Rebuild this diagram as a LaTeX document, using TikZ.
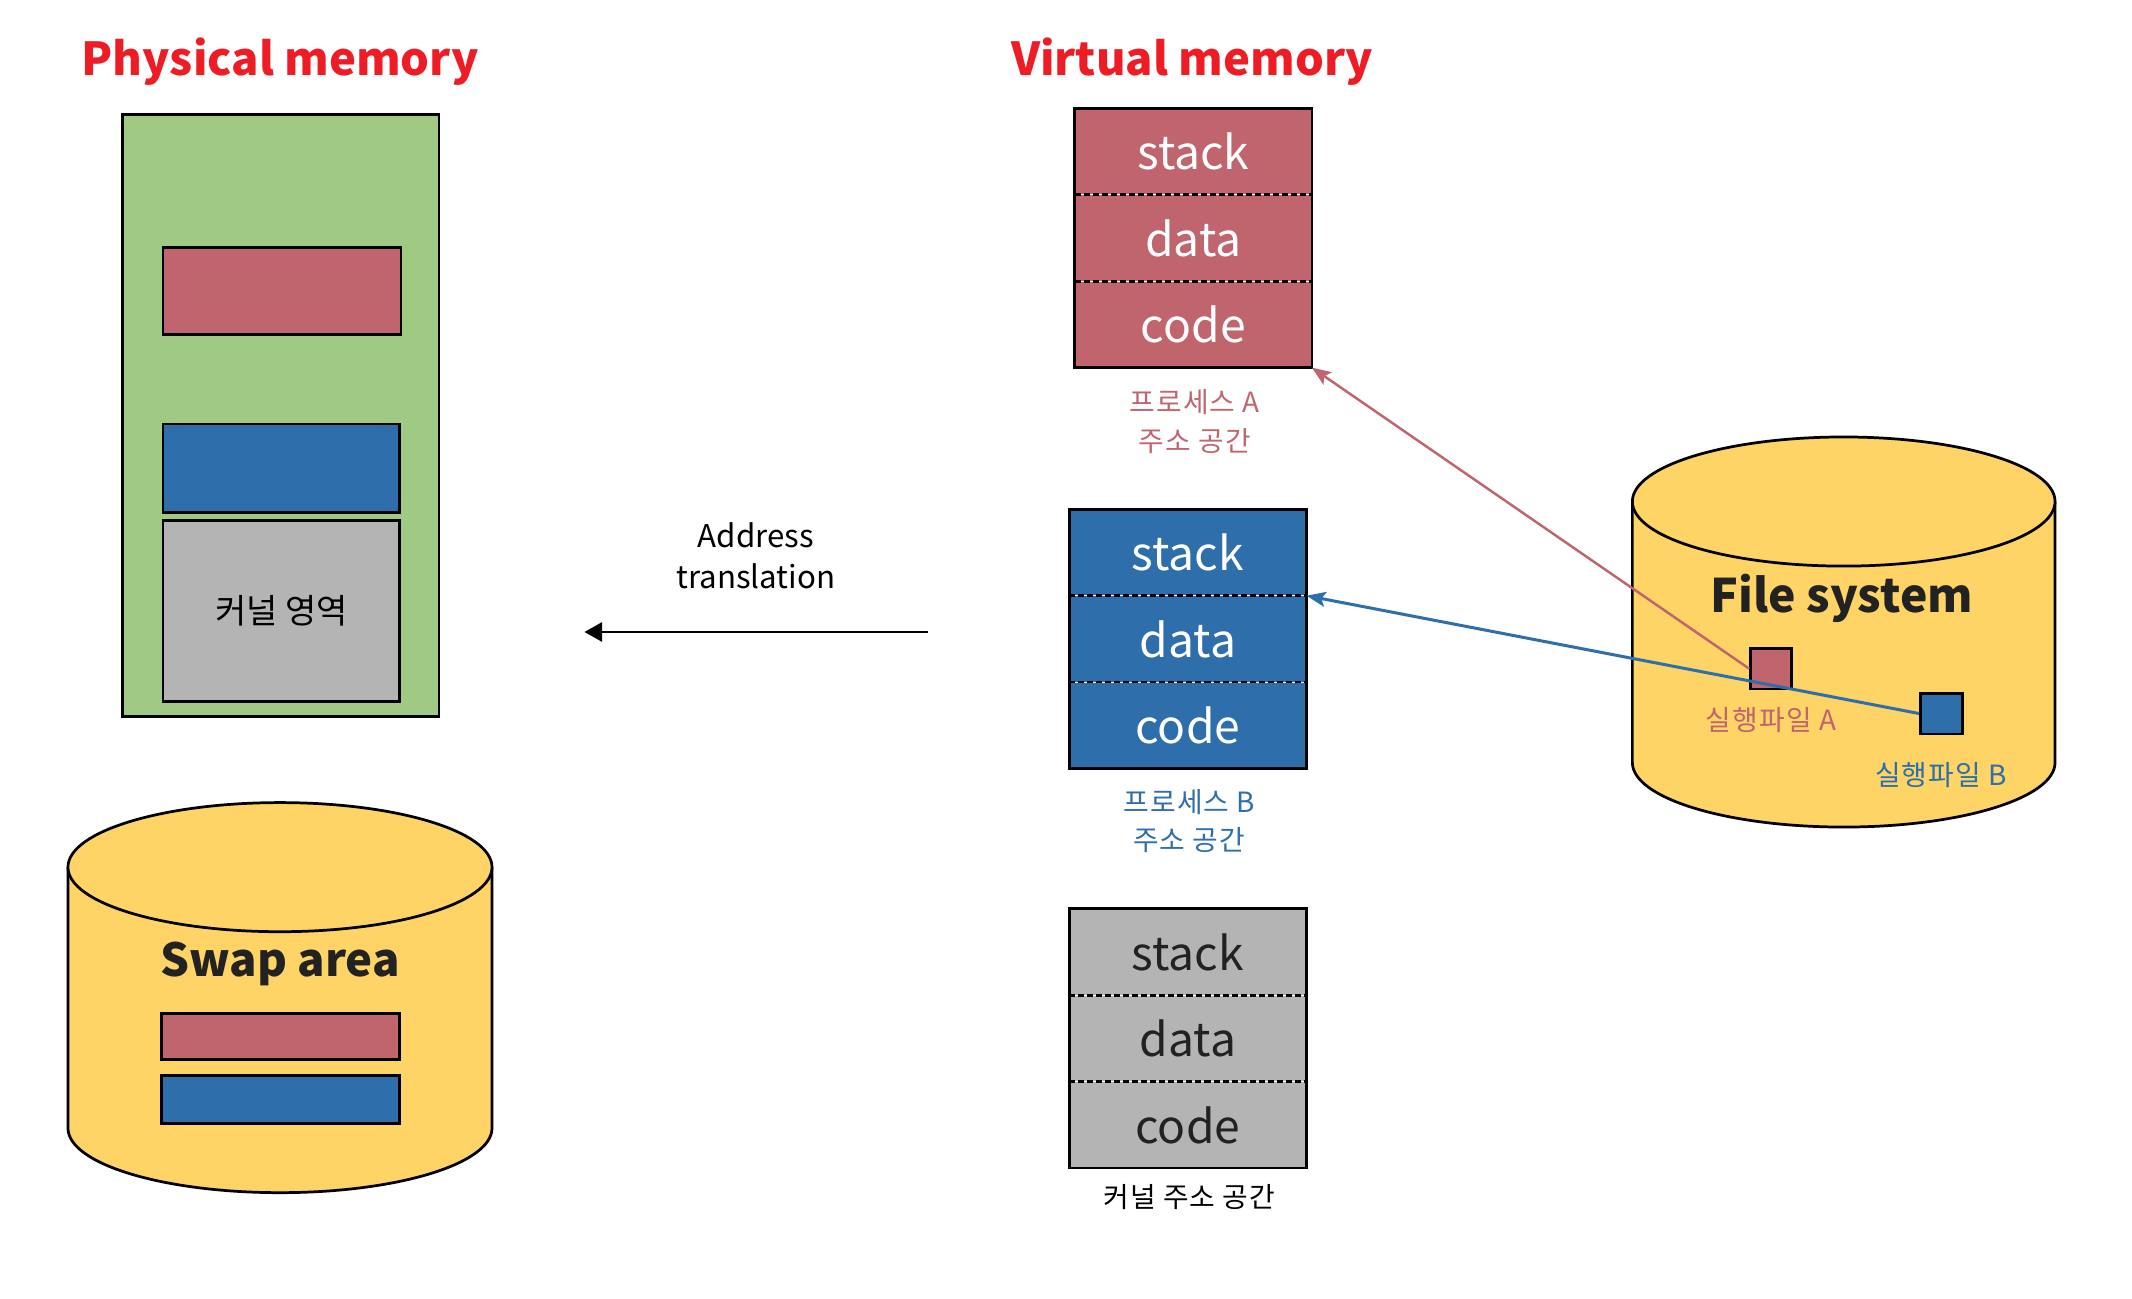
\documentclass[tikz,border=0pt]{standalone}
\usepackage{fontspec}
\setmainfont{Noto Sans CJK KR}
\newfontfamily\capfont[LetterSpace=4]{Noto Sans CJK KR}
\usepackage{xcolor}
\usetikzlibrary{arrows,arrows.meta,positioning}

\definecolor{segred}{HTML}{C0646E}
\definecolor{segblue}{HTML}{2E6EAA}
\definecolor{memgreen}{HTML}{A0CA84}
\definecolor{seggray}{HTML}{B4B4B4}
\definecolor{diskyellow}{HTML}{FDD465}
\definecolor{titlered}{HTML}{EE1C24}
\definecolor{inkdark}{HTML}{222222}

\begin{document}
\begin{tikzpicture}[x=1pt,y=1pt,>=stealth',semithick]
  \tikzstyle{seg}=[minimum width=174pt,minimum height=63pt,inner sep=0pt,font=\fontsize{34}{40}\selectfont]
  \tikzstyle{block}=[draw=black,line width=2pt,inner sep=0pt]
  \tikzstyle{title}=[text=titlered,font=\fontsize{33.4}{40}\selectfont\bfseries]
  \tikzstyle{caption}=[align=center,font=\capfont\fontsize{20.5}{28.5}\selectfont]
  \tikzstyle{disk}=[fill=diskyellow,draw=black,line width=2pt]
  \tikzstyle{divider}=[line width=2pt,dash pattern=on 4.4pt off 2.2pt]
  \tikzstyle{load}=[-{Stealth[length=14pt,width=11pt,inset=3pt]}]
  \useasboundingbox (0,0) rectangle (1560,-950);

  \begin{scope}[scale=0.9945,transform shape]
  % Titles
  \node[title] (PT) at (206,-45) {Physical memory};
  \node[title] (VT) at (877,-45) {Virtual memory};

  % Physical memory
  \node[block,fill=memgreen,minimum width=233pt,minimum height=443pt] (PM) at (206.5,-305.5) {};
  \node[block,fill=segred,minimum width=175pt,minimum height=64pt] (PA) at (207.5,-214) {};
  \node[block,fill=segblue,minimum width=174pt,minimum height=65pt] (PB) at (207,-344.5) {};
  \node[block,fill=seggray,minimum width=174pt,minimum height=133pt,font=\fontsize{25}{30}\selectfont] (PK) at (207,-449.5) {커널 영역};

  % Swap area
  \draw[disk] (50,-638) -- (50,-830) arc[start angle=180,end angle=360,x radius=156,y radius=47.5] -- (362,-638);
  \draw[disk] (206,-638) ellipse[x radius=156,y radius=47.5];
  \node[text=inkdark,font=\fontsize{33.5}{40}\selectfont\bfseries] (SW) at (206,-709) {Swap area};
  \node[block,fill=segred,minimum width=175pt,minimum height=34pt] (SA) at (206.5,-762.5) {};
  \node[block,fill=segblue,minimum width=175pt,minimum height=35pt] (SB) at (206.5,-809) {};

  % Address translation
  \coordinate (T1) at (683,-465);
  \coordinate (T0) at (430,-465);
  \draw[-{Triangle[length=13pt,width=14pt]},line width=2pt] (T1) -- (T0);
  \node[align=center,font=\fontsize{23}{30}\selectfont] (TL) at (556,-409) {Address\\translation};

  % Process A
  \node[seg,fill=segred,text=white] (As) at (878,-111.5) {stack};
  \node[seg,fill=segred,text=white,below=0pt of As] (Ad) {data};
  \node[seg,fill=segred,text=white,below=0pt of Ad] (Ac) {code};
  \draw[line width=2pt] (As.north west) rectangle (Ac.south east);
  \draw[divider] (As.south west) -- (As.south east);
  \draw[divider] (Ad.south west) -- (Ad.south east);
  \node[caption,text=segred] (AL) at (879,-310) {프로세스 A\\주소 공간};

  % Process B
  \node[seg,fill=segblue,text=white] (Bs) at (874,-406.5) {stack};
  \node[seg,fill=segblue,text=white,below=0pt of Bs] (Bd) {data};
  \node[seg,fill=segblue,text=white,below=0pt of Bd] (Bc) {code};
  \draw[line width=2pt] (Bs.north west) rectangle (Bc.south east);
  \draw[divider] (Bs.south west) -- (Bs.south east);
  \draw[divider] (Bd.south west) -- (Bd.south east);
  \node[caption,text=segblue] (BL) at (875,-604) {프로세스 B\\주소 공간};

  % Kernel
  \node[seg,fill=seggray,text=inkdark] (Ks) at (874,-700.5) {stack};
  \node[seg,fill=seggray,text=inkdark,below=0pt of Ks] (Kd) {data};
  \node[seg,fill=seggray,text=inkdark,below=0pt of Kd] (Kc) {code};
  \draw[line width=2pt] (Ks.north west) rectangle (Kc.south east);
  \draw[divider] (Ks.south west) -- (Ks.south east);
  \draw[divider] (Kd.south west) -- (Kd.south east);
  \node[caption,text=black] (KL) at (875,-881) {커널 주소 공간};

  % File system
  \draw[disk] (1201,-369) -- (1201,-561) arc[start angle=180,end angle=360,x radius=155.5,y radius=47.5] -- (1512,-369);
  \draw[disk] (1356.5,-369) ellipse[x radius=155.5,y radius=47.5];
  \node[text=inkdark,font=\fontsize{34}{40}\selectfont\bfseries] (FS) at (1355,-440) {File system};
  \node[block,fill=segred,minimum width=30pt,minimum height=30pt] (XA) at (1303,-492) {};
  \node[caption,text=segred] (XAL) at (1303,-530) {실행파일 A};
  \node[block,fill=segblue,minimum width=31pt,minimum height=30pt] (XB) at (1428.5,-525) {};
  \node[caption,text=segblue] (XBL) at (1428,-570) {실행파일 B};

  % Arrows / mappings
  \path (XA.west) edge [load,segred,line width=1.8pt] (Ac.south east);   % file A is loaded into A
  \path (XB.west) edge [load,segblue,line width=2.2pt] (Bs.south east);  % file B is loaded into B
  \end{scope}
\end{tikzpicture}
\end{document}
